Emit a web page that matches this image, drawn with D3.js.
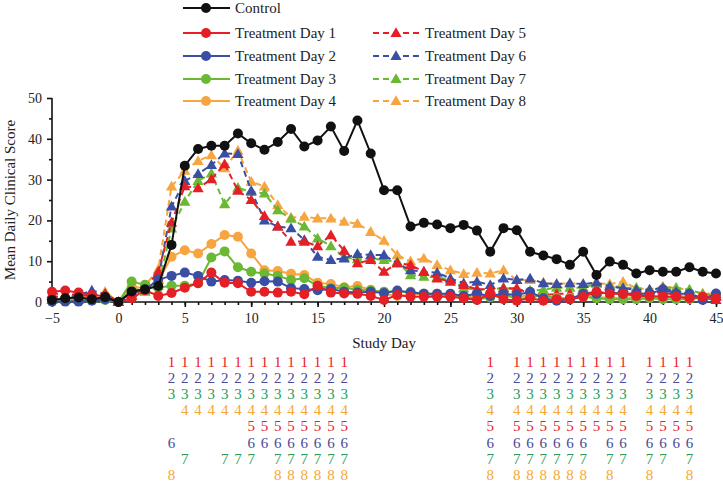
<!DOCTYPE html>
<html>
<head>
<meta charset="utf-8">
<script src="https://cdn.jsdelivr.net/npm/d3@7"></script>
<style>
  body { margin: 0; background: #fff; }
  svg { display: block; font-family: "Liberation Serif", "DejaVu Serif", serif; }
</style>
</head>
<body>
<svg id="chart" width="723" height="483"></svg>
<script>
// study days -5 .. 45
const days = [-5, -4, -3, -2, -1, 0, 1, 2, 3, 4, 5, 6, 7, 8, 9, 10, 11, 12, 13, 14, 15, 16, 17, 18, 19, 20,
  21, 22, 23, 24, 25, 26, 27, 28, 29, 30, 31, 32, 33, 34, 35, 36, 37, 38, 39, 40, 41, 42, 43, 44, 45];

const control = [0.5, 0.9, 1.1, 0.7, 1.2, 0, 2.6, 3.1, 3.9, 14, 33.4, 37.5, 38.3, 38.3, 41.3, 38.9, 37.3, 39.2, 42.4, 38.1,
  39.6, 43.0, 37.0, 44.5, 36.4, 27.4, 27.4, 18.5, 19.4, 19.0, 18.1, 18.9, 17.5, 12.3, 18.1, 17.6, 12.3, 11.4, 10.5, 9.1,
  12.3, 6.6, 9.9, 9.1, 7.0, 7.8, 7.4, 7.4, 8.5, 7.4, 7.0];
const day1 = [2.5, 2.8, 2.3, 1.7, 1.4, 0, 0.9, 2.9, 1.5, 2.2, 3.5, 4.6, 7.2, 4.7, 4.6, 2.5, 2.5, 2.3, 2.5, 1.9,
  4.0, 2.3, 2.1, 2.0, 1.5, 0.5, 1.7, 1.3, 1.3, 1.3, 1.3, 0.9, 0.5, 2.0, 0.7, 0.3, 0.9, 0.3, 0.7, 0.7,
  1.3, 2.5, 2.0, 2.0, 1.5, 1.5, 1.3, 1.3, 0.9, 1.3, 0.9];
const day2 = [0.1, 0.1, 0.1, 0.3, 0.7, 0, 2.2, 3.0, 5.5, 6.4, 7.2, 6.4, 5.0, 5.4, 5.2, 4.7, 5.1, 5.0, 3.4, 3.2,
  2.9, 3.2, 2.5, 2.3, 2.5, 2.2, 2.8, 2.3, 2.0, 2.0, 2.0, 1.5, 2.0, 1.5, 2.0, 1.7, 2.5, 0.9, 0.3, 0.7,
  2.0, 2.0, 2.3, 2.0, 2.0, 2.0, 3.1, 2.0, 2.0, 0.5, 2.1];
const day3 = [0.2, 0.3, 0.5, 0.5, 0.5, 0, 5.0, 4.2, 3.5, 4.0, 4.0, 4.6, 10.9, 12.4, 8.5, 7.4, 7.0, 6.4, 5.4, 5.8,
  4.0, 3.4, 3.5, 3.0, 2.8, 2.5, 2.5, 2.5, 2.0, 1.5, 1.5, 1.3, 0.7, 1.1, 2.0, 0.7, 1.1, 1.7, 0.9, 0.7,
  1.3, 0.9, 0.7, 0.7, 0.7, 0.9, 0.7, 0.7, 0.7, 1.1, 1.7];
const day4 = [0.2, 0.5, 1.0, 0.8, 1.0, 0, 3.8, 3.4, 5.0, 11.1, 12.7, 11.9, 14.2, 16.4, 16.0, 11.9, 7.8, 7.6, 6.9, 6.6,
  4.7, 4.4, 3.6, 3.9, 3.0, 2.0, 1.5, 1.7, 2.0, 2.0, 1.5, 1.3, 1.3, 1.5, 1.5, 1.3, 1.7, 1.3, 1.0, 1.0,
  1.5, 1.2, 1.0, 1.0, 1.2, 1.3, 1.0, 1.5, 1.2, 1.0, 1.3];
const day5 = [2.0, 2.0, 1.7, 1.5, 2.0, 0, 1.5, 3.5, 7.4, 19.5, 28.4, 27.9, 30.1, 33.8, 27.3, 25.0, 21.1, 18.5, 14.8, 14.8,
  13.7, 16.4, 12.6, 9.5, 10.3, 7.4, 9.5, 9.1, 7.4, 5.8, 5.0, 4.2, 3.1, 3.1, 3.4, 3.4, 2.0, 1.7, 2.0, 2.0,
  2.0, 2.5, 2.0, 2.0, 2.0, 2.0, 2.5, 1.5, 1.5, 1.0, 0.5];
const day6 = [1.5, 1.0, 1.7, 2.8, 2.0, 0, 2.3, 3.0, 5.5, 23.4, 29.7, 31.4, 33.6, 36.4, 36.3, 27.3, 20.0, 18.5, 18.1, 15.2,
  11.1, 10.3, 10.7, 11.8, 11.5, 11.5, 9.5, 7.8, 7.4, 7.2, 5.8, 4.6, 5.0, 4.2, 5.8, 5.4, 5.8, 4.6, 4.4, 4.6,
  4.4, 4.8, 3.8, 3.4, 3.0, 3.0, 3.4, 2.5, 2.1, 0.9, 1.3];
const day7 = [0.5, 0.5, 0.5, 0.8, 0.8, 0, 3.5, 2.5, 4.0, 18.0, 24.6, 29.7, 31.5, 24.0, 28.0, 27.0, 26.6, 22.5, 20.4, 18.5,
  15.6, 13.7, 10.9, 10.5, 10.7, 10.3, 9.9, 6.6, 6.2, 6.0, 5.5, 3.4, 3.0, 3.0, 3.5, 3.0, 2.8, 3.0, 3.5, 3.5,
  3.5, 4.5, 4.0, 3.5, 3.5, 3.0, 3.5, 3.5, 3.0, 2.0, 1.5];
const day8 = [0.5, 1.0, 1.5, 1.0, 2.5, 0, 3.5, 4.0, 8.0, 28.3, 32.2, 34.6, 36.0, 32.8, 37.1, 29.5, 28.3, 23.8, 20.7, 20.9,
  20.5, 20.5, 19.7, 19.2, 17.2, 15.0, 11.5, 10.0, 10.7, 9.1, 7.8, 6.9, 7.2, 7.0, 7.8, 5.4, 5.4, 4.8, 4.4, 4.6,
  4.4, 4.6, 4.4, 5.0, 3.4, 3.1, 3.8, 3.4, 3.0, 2.1, 2.0];

// days marked for each treatment group (rows under the axis)
const sig1 = [4, 5, 6, 7, 8, 9, 10, 11, 12, 13, 14, 15, 16, 17, 28, 30, 31, 32, 33, 34, 35, 36, 37, 38, 40, 41, 42, 43];
const sig2 = [4, 5, 6, 7, 8, 9, 10, 11, 12, 13, 14, 15, 16, 17, 28, 30, 31, 32, 33, 34, 35, 36, 37, 38, 40, 41, 42, 43];
const sig3 = [4, 5, 6, 7, 8, 9, 10, 11, 12, 13, 14, 15, 16, 17, 28, 30, 31, 32, 33, 34, 35, 36, 37, 38, 40, 41, 42, 43];
const sig4 = [5, 6, 7, 8, 9, 10, 11, 12, 13, 14, 15, 16, 17, 28, 30, 31, 32, 33, 34, 35, 36, 37, 38, 40, 41, 42, 43];
const sig5 = [10, 11, 12, 13, 14, 15, 16, 17, 28, 30, 31, 32, 33, 34, 35, 36, 37, 38, 40, 41, 42, 43];
const sig6 = [4, 10, 11, 12, 13, 14, 15, 16, 17, 28, 30, 31, 32, 33, 34, 35, 37, 38, 40, 41, 42, 43];
const sig7 = [5, 8, 9, 10, 12, 13, 14, 15, 16, 17, 28, 30, 31, 32, 33, 34, 35, 37, 38, 40, 41, 43];
const sig8 = [4, 12, 13, 14, 15, 16, 17, 28, 30, 31, 32, 33, 34, 35, 37, 40, 43];

const xTicks = [-5, 0, 5, 10, 15, 20, 25, 30, 35, 40, 45];
const yTicks = [0, 10, 20, 30, 40, 50];

const red = '#e41f26', blue = '#3a4ea3', green = '#6ab833', orange = '#f7a540';

const series = [
  { name: 'Treatment Day 8', values: day8, color: orange, dashed: true },
  { name: 'Treatment Day 7', values: day7, color: green, dashed: true },
  { name: 'Treatment Day 6', values: day6, color: blue, dashed: true },
  { name: 'Treatment Day 5', values: day5, color: red, dashed: true },
  { name: 'Treatment Day 4', values: day4, color: orange, dashed: false },
  { name: 'Treatment Day 3', values: day3, color: green, dashed: false },
  { name: 'Treatment Day 2', values: day2, color: blue, dashed: false },
  { name: 'Treatment Day 1', values: day1, color: red, dashed: false },
  { name: 'Control', values: control, color: '#111', dashed: false }
];

const sigRows = [
  { label: '1', days: sig1, color: '#e8232b' },
  { label: '2', days: sig2, color: '#4a4a98' },
  { label: '3', days: sig3, color: '#2c9a57' },
  { label: '4', days: sig4, color: '#f5a834' },
  { label: '5', days: sig5, color: '#e8232b' },
  { label: '6', days: sig6, color: '#4a4a98' },
  { label: '7', days: sig7, color: '#2c9a57' },
  { label: '8', days: sig8, color: '#f5a834' }
];

const svg = d3.select('#chart');
const x = d3.scaleLinear().domain([-5, 45]).range([52, 716]);
const y = d3.scaleLinear().domain([0, 50]).range([302, 98]);

// axes
const xAxis = svg.append('g').attr('transform', 'translate(0,302)');
xAxis.append('g')
  .call(d3.axisBottom(x).tickValues(days).tickSize(3).tickFormat(''))
  .call(g => g.select('.domain').remove());
xAxis.append('g')
  .call(d3.axisBottom(x).tickValues(xTicks).tickSize(5).tickPadding(6)
    .tickFormat(d => d < 0 ? '\u2212' + Math.abs(d) : d))
  .call(g => g.select('.domain').attr('d', 'M52,0H716'));

const yAxis = svg.append('g').attr('transform', 'translate(52,0)');
yAxis.append('g')
  .call(d3.axisLeft(y).tickValues([5, 15, 25, 35, 45]).tickSize(3).tickFormat(''))
  .call(g => g.select('.domain').remove());
yAxis.append('g')
  .call(d3.axisLeft(y).tickValues(yTicks).tickSize(5).tickPadding(5))
  .call(g => g.select('.domain').attr('d', 'M0,98V302'));

svg.selectAll('.tick line, .domain').attr('stroke', '#111').attr('stroke-width', 1.6);
svg.selectAll('.tick text').attr('font-size', 14).attr('fill', '#222').attr('font-family', 'Liberation Serif');

svg.append('text')
  .attr('transform', 'translate(15,200) rotate(-90)')
  .attr('text-anchor', 'middle')
  .attr('font-size', 15)
  .attr('fill', '#222')
  .text('Mean Daily Clinical Score');
svg.append('text')
  .attr('x', 384).attr('y', 348)
  .attr('text-anchor', 'middle')
  .attr('font-size', 15)
  .attr('fill', '#222')
  .text('Study Day');

const tri = d3.symbol().type(d3.symbolTriangle).size(55);
const line = d3.line().x((d, i) => x(days[i])).y(d => y(d));

function drawMarker(g, s, cx, cy) {
  if (s.dashed) {
    g.append('path').attr('d', tri).attr('transform', `translate(${cx},${cy + 0.8})`).attr('fill', s.color);
  } else {
    g.append('circle').attr('cx', cx).attr('cy', cy).attr('r', 5).attr('fill', s.color);
  }
}

// lines and markers
series.forEach(s => {
  const g = svg.append('g');
  g.append('path')
    .datum(s.values)
    .attr('d', line)
    .attr('fill', 'none')
    .attr('stroke', s.color)
    .attr('stroke-width', 2)
    .attr('stroke-dasharray', s.dashed ? '6,4' : null);
  s.values.forEach((v, i) => drawMarker(g, s, x(days[i]), y(v)));
});

// legend
const legendRows = [
  { s: series[8], lx: 183, ly: 8 },
  { s: series[7], lx: 183, ly: 33 },
  { s: series[6], lx: 183, ly: 56 },
  { s: series[5], lx: 183, ly: 79 },
  { s: series[4], lx: 183, ly: 101 },
  { s: series[3], lx: 373, ly: 33 },
  { s: series[2], lx: 373, ly: 56 },
  { s: series[1], lx: 373, ly: 79 },
  { s: series[0], lx: 373, ly: 101 }
];
legendRows.forEach(r => {
  const g = svg.append('g');
  g.append('line')
    .attr('x1', r.lx).attr('x2', r.lx + 47)
    .attr('y1', r.ly).attr('y2', r.ly)
    .attr('stroke', r.s.color).attr('stroke-width', 2)
    .attr('stroke-dasharray', r.s.dashed ? '6,4' : null);
  drawMarker(g, r.s, r.lx + 23, r.ly);
  g.append('text')
    .attr('x', r.lx + 52).attr('y', r.ly + 5)
    .attr('font-size', 15).attr('fill', '#222')
    .text(r.s.name);
});

// marker rows under the chart
sigRows.forEach((row, k) => {
  svg.append('g').selectAll('text')
    .data(row.days)
    .join('text')
    .attr('x', d => x(d))
    .attr('y', 367 + k * 16.1)
    .attr('text-anchor', 'middle')
    .attr('font-size', 15)
    .attr('fill', row.color)
    .text(row.label);
});
</script>
</body>
</html>
